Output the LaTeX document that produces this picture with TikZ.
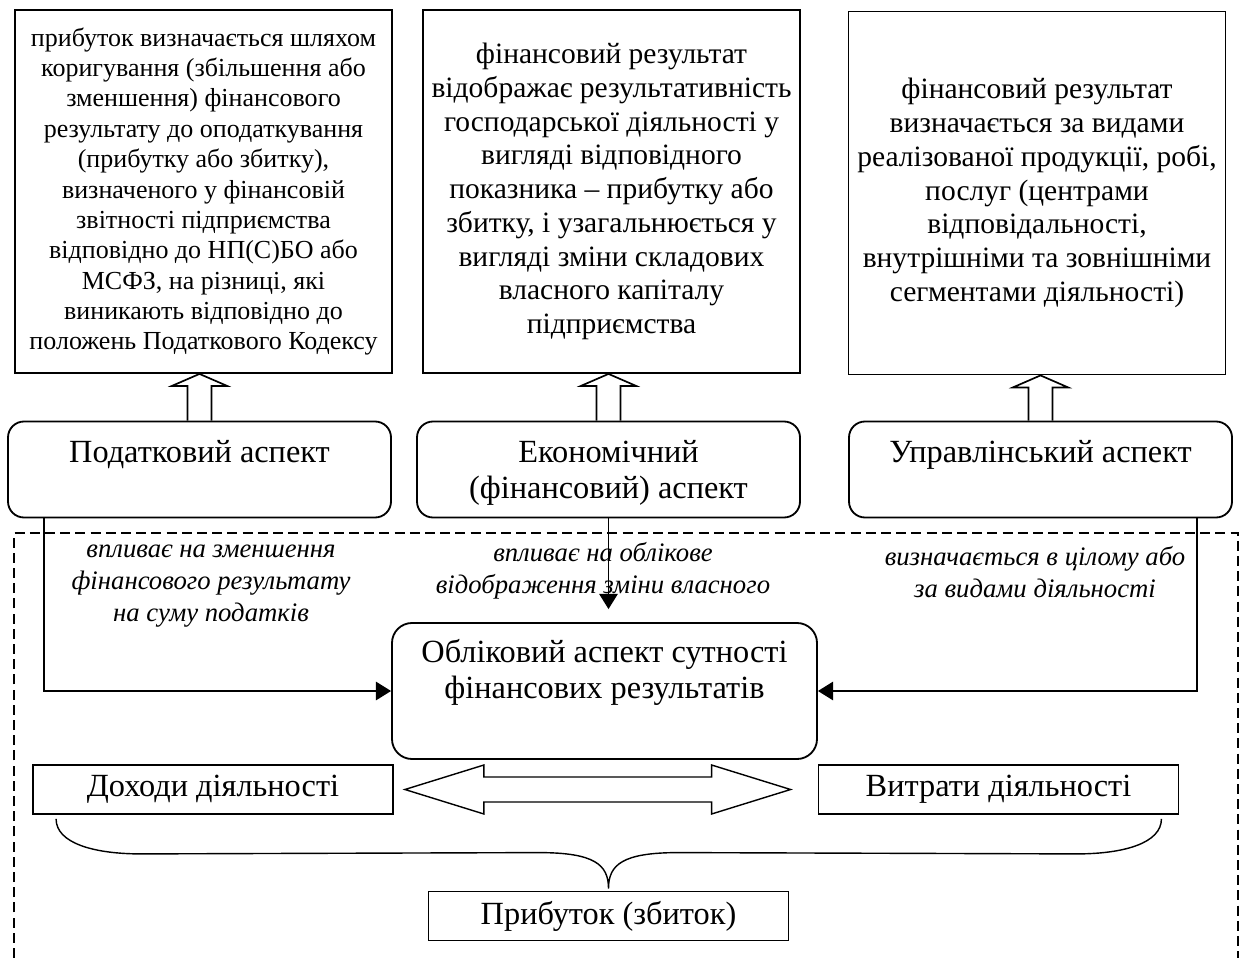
\documentclass[tikz,border=0pt]{standalone}
\usepackage{fontspec}
\setmainfont{Liberation Serif}
\usetikzlibrary{arrows.meta,calc}

% hollow arrow pointing up from an aspect box to its description
\newcommand{\hollowup}[2]{%
  \draw[line width=1.2pt] ($(#1.north)+(-3mm,0)$) -- ($(#1.north |- #2.south)+(-3mm,-3mm)$)
    -- ++(-3.9mm,0) -- (#1.north |- #2.south) -- ($(#1.north |- #2.south)+(6.9mm,-3mm)$)
    -- ++(-3.9mm,0) -- ($(#1.north)+(3mm,0)$);}

\begin{document}
\begin{tikzpicture}[x=0.25mm,y=-0.25mm,
  descbox/.style={draw,line width=1.3pt,minimum width=94.25mm,minimum height=90.75mm,align=center,
    font=\fontsize{21}{24}\selectfont},
  aspbox/.style={draw,rounded corners=4mm,line width=1.3pt,minimum width=95.75mm,minimum height=24mm},
  asptext/.style={anchor=north,align=center,font=\fontsize{23}{25.8}\selectfont},
  note/.style={align=center,font=\fontsize{19}{22.7}\selectfont\itshape},
  plainbox/.style={draw,line width=1.3pt,minimum width=90mm,minimum height=12.25mm,
    font=\fontsize{23}{26}\selectfont},
  link/.style={line width=1.3pt,-{Triangle[length=3.8mm,width=4.6mm]}}]
  \useasboundingbox (0,0) rectangle (1241,958);

  % the three descriptions
  \node[descbox,font=\fontsize{18.5}{21.6}\selectfont] (taxtxt) at (203.5,191.5) {прибуток визначається шляхом\\коригування (збільшення або\\зменшення) фінансового\\результату до оподаткування\\(прибутку або збитку),\\визначеного у фінансовій\\звітності підприємства\\відповідно до НП(С)БО або\\МСФЗ, на різниці, які\\виникають відповідно до\\положень Податкового Кодексу};
  \node[descbox] (ecotxt) at (611.5,191.5) {фінансовий результат\\відображає результативність\\господарської діяльності у\\вигляді відповідного\\показника – прибутку або\\збитку, і узагальнюється у\\вигляді зміни складових\\власного капіталу\\підприємства};
  \node[descbox] (mantxt) at (1037,193) {фінансовий результат\\визначається за видами\\реалізованої продукції, робі,\\послуг (центрами\\відповідальності,\\внутрішніми та зовнішніми\\сегментами діяльності)};

  % the three aspects
  \node[aspbox] (taxasp) at (199.5,469.5) {};
  \node[aspbox] (ecoasp) at (608.5,469.5) {};
  \node[aspbox] (manasp) at (1040.5,469.5) {};
  \node[asptext] (taxname) at ([yshift=-3.75mm]taxasp.north) {Податковий аспект};
  \node[asptext] (econame) at ([yshift=-3.75mm]ecoasp.north) {Економічний\\(фінансовий) аспект};
  \node[asptext] (manname) at ([yshift=-3.75mm]manasp.north) {Управлінський аспект};
  \hollowup{taxasp}{taxtxt}
  \hollowup{ecoasp}{ecotxt}
  \hollowup{manasp}{mantxt}

  % dashed frame
  \draw[dash pattern=on 2.5mm off 1.3mm,line width=0.9pt] (14,958) -- (14,533) -- (1238,533) -- (1238,958);

  % accounting aspect
  \node[draw,rounded corners=5mm,line width=1.3pt,minimum width=106.25mm,minimum height=34mm] (acc) at (604.5,691) {};
  \node[asptext] (acctxt) at ([yshift=-3mm]acc.north) {Обліковий аспект сутності\\фінансових результатів};

  \node[note] (taxnote) at (211,586) {впливає на зменшення\\фінансового результату\\на суму податків};
  \node[note] (econote) at (603,571) {впливає на облікове\\відображення зміни власного};
  \node[note] (mannote) at (1035,572) {визначається в цілому або\\за видами діяльності};

  \draw[link] ([xshift=9.25mm]taxasp.south west) |- (acc.west);
  \draw[link,shorten >=3.25mm] (ecoasp.south) -- (ecoasp.south |- acc.north);
  \draw[link] ([xshift=-9mm]manasp.south east) |- (acc.east);

  % incomes, expenses and the result
  \node[plainbox] (inc) at (213,789.5) {Доходи діяльності};
  \node[plainbox] (exp) at (998.5,789.5) {Витрати діяльності};
  \node[plainbox] (prof) at (608.5,916) {Прибуток (збиток)};

  \coordinate (dl) at ($(inc.east)+(2.75mm,0)$);
  \coordinate (dr) at ($(exp.west)+(-6.75mm,0)$);
  \draw[line width=1pt] (dl) -- ++(19.75mm,6.125mm) -- ++(0,-3mm) -- ($(dr)+(-19.75mm,3.125mm)$)
    -- ++(0,3mm) -- (dr) -- ++(-19.75mm,-6.125mm) -- ++(0,3mm) -- ($(dl)+(19.75mm,-3.125mm)$)
    -- ++(0,-3mm) -- cycle;

  % brace
  \coordinate (bl) at ($(inc.south west)+(6mm,-1mm)$);
  \coordinate (br) at ($(exp.south east)+(-4.5mm,-1mm)$);
  \coordinate (bt) at ($(prof.north)+(0,0.5mm)$);
  \draw[line width=1pt] (bl) .. controls +(0,-6mm) and +(-12mm,0) .. ($(bl)+(21.25mm,-8.75mm)$)
    -- ($(bt)+(-17.5mm,9mm)$) .. controls +(14mm,0) and +(0,6mm) .. (bt)
    .. controls +(0,6mm) and +(-14mm,0) .. ($(bt)+(17.5mm,9mm)$)
    -- ($(br)+(-21.25mm,-8.75mm)$) .. controls +(12mm,0) and +(0,-6mm) .. (br);
\end{tikzpicture}
\end{document}
